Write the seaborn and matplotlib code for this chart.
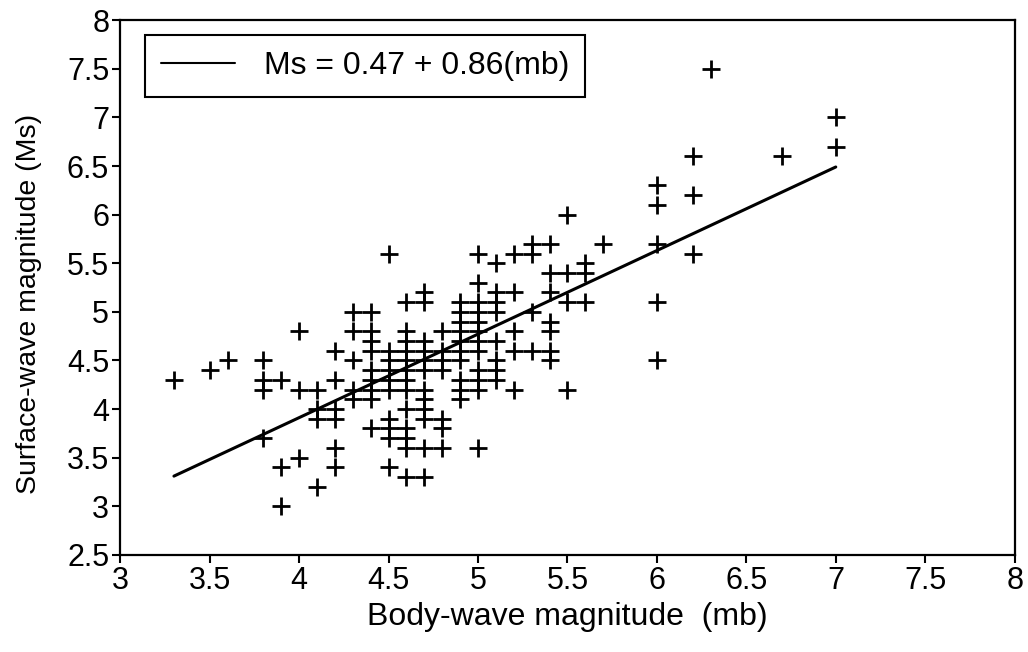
import matplotlib
matplotlib.use("Agg")
import matplotlib.pyplot as plt
import seaborn as sns
import pandas as pd

# Body-wave magnitude (mb) of each event
mb = [
    3.3, 3.5, 3.6,
    3.8, 3.8, 3.8, 3.8,
    3.9, 3.9, 3.9,
    4.0, 4.0, 4.0,
    4.1, 4.1, 4.1, 4.1,
    4.2, 4.2, 4.2, 4.2, 4.2, 4.2,
    4.3, 4.3, 4.3, 4.3, 4.3,
    4.4, 4.4, 4.4, 4.4, 4.4, 4.4, 4.4, 4.4, 4.4,
    4.5, 4.5, 4.5, 4.5, 4.5, 4.5, 4.5, 4.5, 4.5, 4.5,
    4.6, 4.6, 4.6, 4.6, 4.6, 4.6, 4.6, 4.6, 4.6, 4.6, 4.6, 4.6, 4.6,
    4.7, 4.7, 4.7, 4.7, 4.7, 4.7, 4.7, 4.7, 4.7, 4.7, 4.7, 4.7,
    4.8, 4.8, 4.8, 4.8, 4.8, 4.8, 4.8,
    4.9, 4.9, 4.9, 4.9, 4.9, 4.9, 4.9, 4.9, 4.9, 4.9,
    5.0, 5.0, 5.0, 5.0, 5.0, 5.0, 5.0, 5.0, 5.0, 5.0, 5.0, 5.0,
    5.1, 5.1, 5.1, 5.1, 5.1, 5.1, 5.1, 5.1,
    5.2, 5.2, 5.2, 5.2, 5.2,
    5.3, 5.3, 5.3, 5.3,
    5.4, 5.4, 5.4, 5.4, 5.4, 5.4, 5.4,
    5.5, 5.5, 5.5, 5.5,
    5.6, 5.6, 5.6,
    5.7,
    6.0, 6.0, 6.0, 6.0, 6.0,
    6.2, 6.2, 6.2,
    6.3,
    6.7,
    7.0, 7.0,
]

# Surface-wave magnitude (Ms) of each event
ms = [
    4.3, 4.4, 4.5,
    4.5, 4.3, 4.2, 3.7,
    4.3, 3.4, 3.0,
    4.8, 4.2, 3.5,
    4.2, 4.0, 3.9, 3.2,
    4.6, 4.3, 4.0, 3.9, 3.6, 3.4,
    5.0, 4.8, 4.5, 4.2, 4.1,
    5.0, 4.8, 4.7, 4.6, 4.4, 4.3, 4.2, 4.1, 3.8,
    5.6, 4.6, 4.5, 4.4, 4.3, 4.2, 3.9, 3.8, 3.7, 3.4,
    5.1, 4.8, 4.7, 4.6, 4.5, 4.4, 4.3, 4.2, 4.0, 3.8, 3.7, 3.6, 3.3,
    5.2, 5.1, 4.7, 4.6, 4.5, 4.4, 4.2, 4.1, 4.0, 3.9, 3.6, 3.3,
    4.8, 4.6, 4.5, 4.4, 3.9, 3.8, 3.6,
    5.1, 5.0, 4.9, 4.8, 4.7, 4.6, 4.5, 4.3, 4.2, 4.1,
    5.6, 5.3, 5.1, 5.0, 4.9, 4.8, 4.7, 4.6, 4.4, 4.3, 4.2, 3.6,
    5.5, 5.2, 5.1, 5.0, 4.7, 4.5, 4.4, 4.3,
    5.6, 5.2, 4.8, 4.6, 4.2,
    5.7, 5.6, 5.0, 4.6,
    5.7, 5.4, 5.2, 4.9, 4.8, 4.6, 4.5,
    6.0, 5.4, 5.1, 4.2,
    5.5, 5.4, 5.1,
    5.7,
    6.3, 6.1, 5.7, 5.1, 4.5,
    6.6, 6.2, 5.6,
    7.5,
    6.6,
    7.0, 6.7,
]

# Fitted line end points (Ms = 0.47 + 0.86 mb)
line_mb = [3.3, 7.0]
line_ms = [3.31, 6.49]
line_label = "Ms = 0.47 + 0.86(mb)"

xticks = [3, 3.5, 4, 4.5, 5, 5.5, 6, 6.5, 7, 7.5, 8]
xtick_labels = ["3", "3.5", "4", "4.5", "5", "5.5", "6", "6.5", "7", "7.5", "8"]
yticks = [2.5, 3, 3.5, 4, 4.5, 5, 5.5, 6, 6.5, 7, 7.5, 8]
ytick_labels = ["2.5", "3", "3.5", "4", "4.5", "5", "5.5", "6", "6.5", "7", "7.5", "8"]

sns.set_theme(style="ticks")
plt.rcParams["font.family"] = ["Liberation Sans", "DejaVu Sans"]
plt.rcParams["text.color"] = "black"
plt.rcParams["axes.labelcolor"] = "black"
plt.rcParams["xtick.color"] = "black"
plt.rcParams["ytick.color"] = "black"

fig = plt.figure(figsize=(10.28, 6.52), dpi=100)
ax = fig.add_axes([0.117, 0.149, 0.870, 0.820])

pts = pd.DataFrame({"mb": mb, "ms": ms})
sns.scatterplot(data=pts, x="mb", y="ms", marker="+", s=170, color="black",
                linewidth=2.0, ax=ax, legend=False, zorder=3)
sns.lineplot(x=line_mb, y=line_ms, color="black", linewidth=2.2, ax=ax,
             label=line_label, zorder=2)

ax.set_xlim(3, 8)
ax.set_ylim(2.5, 8)
ax.set_xticks(xticks)
ax.set_xticklabels(xtick_labels)
ax.set_yticks(yticks)
ax.set_yticklabels(ytick_labels)
ax.tick_params(direction="out", length=6, width=1.5, labelsize=22, colors="black", pad=2)
for side in ["left", "bottom", "top", "right"]:
    ax.spines[side].set_visible(True)
    ax.spines[side].set_linewidth(1.6)
    ax.spines[side].set_color("black")

ax.set_xlabel("Body-wave magnitude  (mb)", fontsize=23, color="black", labelpad=4)
ax.set_ylabel("Surface-wave magnitude (Ms)", fontsize=20.5, color="black")
ax.yaxis.set_label_coords(-0.087, 0.47)

leg = ax.legend(loc="upper left", bbox_to_anchor=(0.028, 0.972), borderaxespad=0,
                fontsize=23, frameon=True, fancybox=False, framealpha=1.0,
                handlelength=2.3, handletextpad=0.9, borderpad=0.5)
leg.get_frame().set_edgecolor("black")
leg.get_frame().set_linewidth(1.5)
for t in leg.get_texts():
    t.set_color("black")
for line in leg.get_lines():
    line.set_linewidth(1.5)

fig.savefig("out.png", dpi=100, facecolor="white")
